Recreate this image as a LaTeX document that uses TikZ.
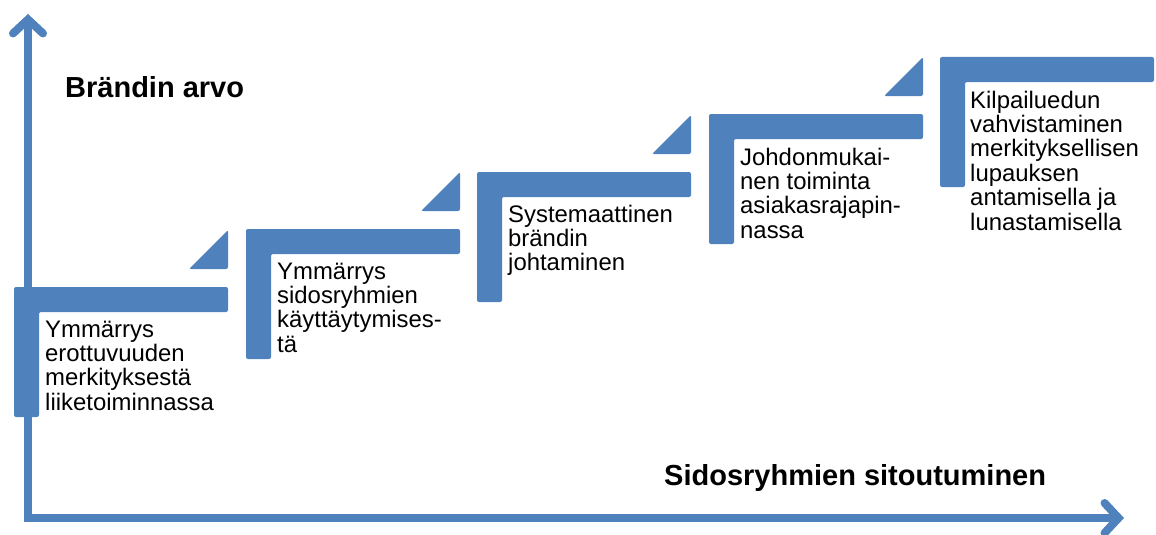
\documentclass[tikz,border=0pt]{standalone}
\usepackage{fontspec}
\setmainfont{Liberation Sans}
\usepackage{tikz}
\usetikzlibrary{arrows.meta, positioning}
\definecolor{stepblue}{HTML}{4F81BD}
\tikzset{
	stepfill/.style={fill=stepblue, rounded corners=2pt},
	steptext/.style={anchor=base west, align=left, inner sep=0pt, font=\fontsize{23.9}{24.4}\selectfont},
	axistitle/.style={anchor=base west, inner sep=0pt, font=\fontsize{29}{32}\selectfont\bfseries},
	axisline/.style={draw=stepblue, line width=8pt, line join=miter}
}
\newcommand{\stairStep}[2]{
	\fill[stepfill] (#1, #2) -- (#1+214, #2) -- (#1+214, #2+25) -- (#1+25, #2+25) -- (#1+25, #2+130) -- (#1, #2+130) -- cycle;
}
\newcommand{\stairCorner}[2]{
	\fill[stepfill] (#1+214, #2-57) -- (#1+214, #2-18) -- (#1+175, #2-18) -- cycle;
}

\begin{document}
\begin{tikzpicture}[x=1pt, y=-1pt]
	\useasboundingbox (0,0) rectangle (1156,535);
	% Steps
	\stairStep{14}{287}
	\stairCorner{14}{287}
	\stairStep{246}{229}
	\stairCorner{246}{229}
	\stairStep{477}{172}
	\stairCorner{477}{172}
	\stairStep{709}{114}
	\stairCorner{709}{114}
	\stairStep{940}{57}
	% Texts (anchored at the last line)
	\node[steptext] (t1) at (45, 410.2) {Ymmärrys\\erottuvuuden\\merkityksestä\\liiketoiminnassa};
	\node[steptext] (t2) at (277, 352.2) {Ymmärrys\\sidosryhmien\\käyttäytymises-\\tä};
	\node[steptext] (t3) at (508, 270.8) {Systemaattinen\\brändin\\johtaminen};
	\node[steptext] (t4) at (740, 238.2) {Johdonmukai-\\nen toiminta\\asiakasrajapin-\\nassa};
	\node[steptext] (t5) at (970, 230) {Kilpailuedun\\vahvistaminen\\merkityksellisen\\lupauksen\\antamisella ja\\lunastamisella};
	% Axes
	\coordinate (origin) at (28, 518);
	\coordinate (ytop) at (28, 14);
	\coordinate (xend) at (1124, 518);
	\draw[axisline, {Straight Barb[length=14pt, width=30pt, line cap=round]}-{Straight Barb[length=14pt, width=30pt, line cap=round]}] (ytop) -- (origin) -- (xend);
	\node[axistitle] (yname) at (65, 97) {Brändin arvo};
	\node[axistitle] (xname) at (664, 485) {Sidosryhmien sitoutuminen};
\end{tikzpicture}
\end{document}
